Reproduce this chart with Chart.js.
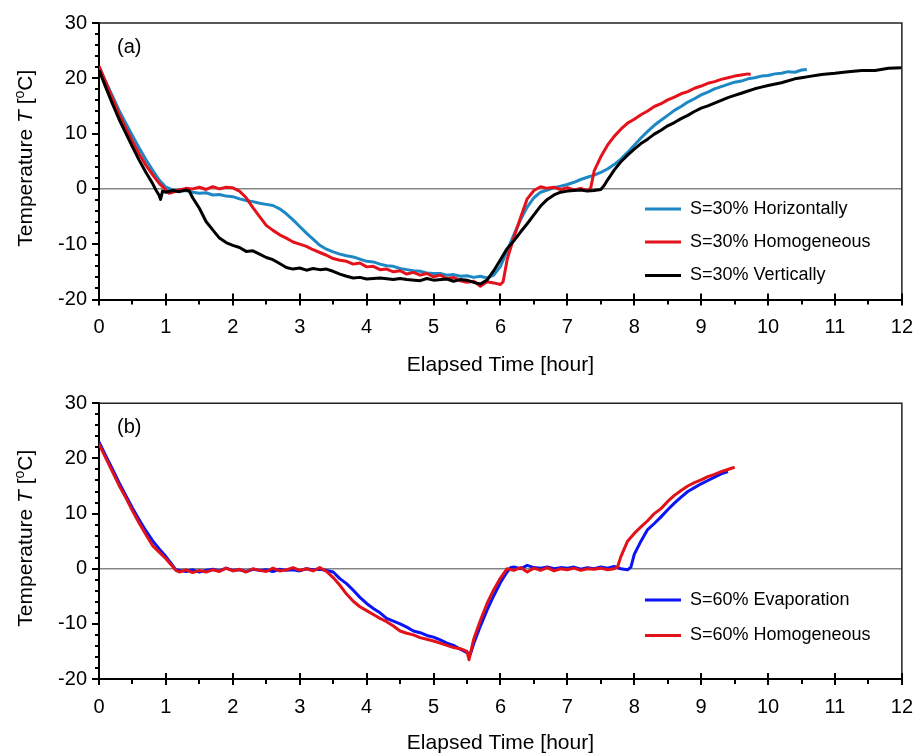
<!DOCTYPE html>
<html>
<head>
<meta charset="utf-8">
<script src="https://cdn.jsdelivr.net/npm/chart.js@4.4.1/dist/chart.umd.min.js"></script>
<style>
  body { margin: 0; background: #fff; }
  .panel { position: absolute; left: 0; width: 921px; height: 378px; }
</style>
</head>
<body>
<div class="panel" style="top:0"><canvas id="chartA" width="921" height="378"></canvas></div>
<div class="panel" style="top:378px"><canvas id="chartB" width="921" height="378"></canvas></div>
<script>
// tick labels
const hourTicks = [0, 1, 2, 3, 4, 5, 6, 7, 8, 9, 10, 11, 12];
const tempTicks = [-20, -10, 0, 10, 20, 30];

// (a) S=30% runs, [hour, degC]
const horizontally = [[0,22],[0.1,19.4],[0.2,16.8],[0.3,14.2],[0.4,11.9],[0.5,9.6],[0.6,7.4],[0.7,5.3],[0.8,3.4],[0.9,1.6],[1.0,0.3],[1.1,-0.2],[1.2,-0.4],[1.3,-0.3],[1.4,-0.6],[1.5,-0.8],[1.6,-0.7],[1.7,-1.1],[1.8,-1.0],[1.9,-1.3],[2.0,-1.4],[2.1,-1.8],[2.2,-2.1],[2.3,-2.3],[2.4,-2.6],[2.5,-2.8],[2.6,-3.0],[2.7,-3.6],[2.8,-4.5],[2.9,-5.6],[3.0,-6.8],[3.1,-8.0],[3.2,-9.1],[3.3,-10.2],[3.4,-10.9],[3.5,-11.4],[3.6,-11.8],[3.7,-12.1],[3.8,-12.3],[3.9,-12.7],[4.0,-13.1],[4.1,-13.2],[4.2,-13.6],[4.3,-13.9],[4.4,-14.0],[4.5,-14.4],[4.6,-14.6],[4.7,-14.8],[4.8,-14.9],[4.9,-15.2],[5.0,-15.3],[5.1,-15.3],[5.2,-15.6],[5.3,-15.5],[5.4,-15.8],[5.5,-15.7],[5.6,-16.0],[5.7,-15.8],[5.8,-16.1],[5.9,-15.6],[6.0,-14.0],[6.1,-11.2],[6.2,-8.3],[6.3,-5.6],[6.4,-3.3],[6.5,-1.6],[6.6,-0.6],[6.7,-0.2],[6.8,0.2],[6.9,0.5],[7.0,0.8],[7.1,1.2],[7.2,1.7],[7.3,2.1],[7.4,2.5],[7.5,3.0],[7.6,3.6],[7.7,4.4],[7.8,5.4],[7.9,6.6],[8.0,7.9],[8.1,9.2],[8.2,10.4],[8.3,11.5],[8.4,12.4],[8.5,13.3],[8.6,14.2],[8.7,14.9],[8.8,15.7],[8.9,16.3],[9.0,17.0],[9.1,17.5],[9.2,18.1],[9.3,18.5],[9.4,18.9],[9.5,19.3],[9.6,19.5],[9.7,19.9],[9.8,20.1],[9.9,20.4],[10.0,20.5],[10.1,20.8],[10.2,20.9],[10.3,21.2],[10.4,21.1],[10.5,21.5],[10.58,21.6]];

const homogeneous30 = [[0,22.2],[0.1,19.3],[0.2,16.4],[0.3,13.5],[0.4,11.0],[0.5,8.6],[0.6,6.3],[0.7,4.3],[0.8,2.6],[0.9,1.0],[1.0,-0.2],[1.05,-0.8],[1.1,-0.6],[1.2,-0.2],[1.3,0.1],[1.4,0.0],[1.5,0.3],[1.6,-0.1],[1.7,0.4],[1.8,0.0],[1.9,0.3],[2.0,0.2],[2.1,-0.4],[2.2,-1.6],[2.3,-3.4],[2.4,-5.0],[2.5,-6.6],[2.6,-7.5],[2.7,-8.3],[2.8,-8.9],[2.9,-9.6],[3.0,-10.0],[3.1,-10.4],[3.2,-11.0],[3.3,-11.5],[3.4,-12.0],[3.5,-12.6],[3.6,-12.9],[3.7,-13.1],[3.8,-13.6],[3.9,-13.4],[4.0,-14.1],[4.1,-14.0],[4.2,-14.6],[4.3,-14.5],[4.4,-15.0],[4.5,-14.8],[4.6,-15.4],[4.7,-15.1],[4.8,-15.6],[4.9,-15.3],[5.0,-15.9],[5.1,-15.6],[5.2,-16.2],[5.3,-16.0],[5.4,-16.6],[5.5,-16.9],[5.6,-16.7],[5.7,-17.6],[5.8,-16.8],[5.9,-17.0],[6.0,-17.3],[6.04,-16.8],[6.1,-12.8],[6.2,-8.8],[6.3,-5.2],[6.4,-1.8],[6.5,-0.3],[6.6,0.4],[6.7,0.1],[6.8,0.3],[6.9,-0.1],[7.0,0.2],[7.1,-0.2],[7.2,0.1],[7.3,-0.3],[7.35,0.2],[7.4,3.2],[7.5,5.8],[7.6,7.9],[7.7,9.5],[7.8,10.8],[7.9,11.9],[8.0,12.6],[8.1,13.4],[8.2,14.1],[8.3,14.9],[8.4,15.4],[8.5,16.1],[8.6,16.6],[8.7,17.2],[8.8,17.6],[8.9,18.2],[9.0,18.6],[9.1,19.1],[9.2,19.4],[9.3,19.8],[9.4,20.1],[9.5,20.4],[9.6,20.6],[9.7,20.8],[9.74,20.7]];

const vertically = [[0,21.5],[0.1,18.4],[0.2,15.4],[0.3,12.6],[0.4,10.1],[0.5,7.6],[0.6,5.2],[0.7,3.0],[0.8,1.0],[0.85,-0.2],[0.9,-1.2],[0.92,-1.9],[0.95,-0.4],[1.0,-0.6],[1.1,-0.3],[1.2,-0.5],[1.3,-0.2],[1.35,-0.4],[1.4,-1.6],[1.5,-3.5],[1.6,-5.9],[1.7,-7.4],[1.8,-8.9],[1.9,-9.7],[2.0,-10.2],[2.1,-10.6],[2.2,-11.3],[2.3,-11.2],[2.4,-11.8],[2.5,-12.4],[2.6,-12.8],[2.7,-13.5],[2.8,-14.2],[2.9,-14.5],[3.0,-14.3],[3.1,-14.7],[3.2,-14.4],[3.3,-14.6],[3.4,-14.5],[3.5,-14.9],[3.6,-15.4],[3.7,-15.8],[3.8,-16.1],[3.9,-16.0],[4.0,-16.3],[4.2,-16.1],[4.4,-16.4],[4.5,-16.2],[4.6,-16.4],[4.8,-16.6],[4.9,-16.2],[5.0,-16.5],[5.2,-16.3],[5.3,-16.7],[5.4,-16.4],[5.5,-16.5],[5.6,-16.9],[5.7,-17.2],[5.8,-16.5],[5.9,-14.8],[6.0,-12.8],[6.1,-10.8],[6.2,-9.4],[6.3,-7.8],[6.4,-6.3],[6.5,-4.7],[6.6,-3.1],[6.7,-1.9],[6.8,-1.1],[6.9,-0.6],[7.0,-0.4],[7.1,-0.3],[7.2,-0.2],[7.3,-0.4],[7.4,-0.3],[7.5,-0.1],[7.55,0.6],[7.6,1.6],[7.7,3.4],[7.8,4.9],[7.9,6.1],[8.0,7.2],[8.1,8.2],[8.2,9.0],[8.3,9.9],[8.4,10.6],[8.5,11.4],[8.6,12.0],[8.7,12.7],[8.8,13.3],[8.9,14.0],[9.0,14.6],[9.1,15.0],[9.2,15.5],[9.3,16.0],[9.4,16.5],[9.5,16.9],[9.6,17.3],[9.7,17.7],[9.8,18.1],[9.9,18.4],[10.0,18.7],[10.2,19.2],[10.4,19.9],[10.5,20.1],[10.6,20.3],[10.8,20.7],[11.0,20.9],[11.2,21.2],[11.4,21.4],[11.6,21.4],[11.8,21.8],[12.0,21.9]];

// (b) S=60% runs
const evaporation = [[0,23.0],[0.1,20.5],[0.2,18.1],[0.3,15.6],[0.4,13.3],[0.5,11.0],[0.6,8.9],[0.7,6.9],[0.8,5.1],[0.9,3.6],[1.0,2.2],[1.1,0.6],[1.15,-0.2],[1.2,-0.3],[1.3,-0.5],[1.4,-0.2],[1.5,-0.6],[1.6,-0.3],[1.7,-0.1],[1.8,-0.4],[1.9,0.1],[2.0,-0.3],[2.1,-0.2],[2.2,-0.5],[2.3,-0.1],[2.4,-0.3],[2.5,-0.2],[2.6,-0.5],[2.7,-0.1],[2.8,-0.3],[2.9,-0.2],[3.0,-0.4],[3.1,0.0],[3.2,-0.2],[3.3,-0.1],[3.4,-0.3],[3.5,-0.6],[3.6,-1.8],[3.7,-2.7],[3.8,-3.9],[3.9,-5.2],[4.0,-6.3],[4.1,-7.2],[4.2,-8.0],[4.3,-9.0],[4.4,-9.5],[4.5,-10.0],[4.6,-10.6],[4.7,-11.3],[4.8,-11.6],[4.9,-12.1],[5.0,-12.4],[5.1,-12.9],[5.2,-13.5],[5.3,-13.9],[5.4,-14.6],[5.5,-15.2],[5.55,-15.5],[5.6,-13.6],[5.7,-10.4],[5.8,-7.5],[5.9,-4.9],[6.0,-2.5],[6.1,-0.6],[6.15,0.2],[6.2,0.3],[6.3,0.0],[6.4,0.6],[6.5,0.2],[6.6,0.1],[6.7,0.3],[6.8,0.0],[6.9,0.2],[7.0,0.1],[7.1,0.3],[7.2,-0.1],[7.3,0.2],[7.4,0.0],[7.5,0.3],[7.6,0.1],[7.7,0.4],[7.8,0.0],[7.9,-0.2],[7.95,0.3],[8.0,2.6],[8.1,5.0],[8.2,7.1],[8.3,8.2],[8.4,9.4],[8.5,10.7],[8.6,11.9],[8.7,13.0],[8.8,14.0],[8.9,14.7],[9.0,15.4],[9.1,16.0],[9.2,16.6],[9.3,17.2],[9.4,17.6]];

const homogeneous60 = [[0,22.6],[0.1,20.1],[0.2,17.6],[0.3,15.1],[0.4,12.9],[0.5,10.5],[0.6,8.3],[0.7,6.2],[0.8,4.2],[0.9,3.0],[1.0,1.8],[1.1,0.4],[1.15,-0.3],[1.2,-0.6],[1.3,-0.2],[1.4,-0.7],[1.5,-0.3],[1.6,-0.6],[1.7,-0.2],[1.8,-0.5],[1.9,0.1],[2.0,-0.4],[2.1,-0.1],[2.2,-0.6],[2.3,0.0],[2.4,-0.3],[2.5,-0.5],[2.6,0.1],[2.7,-0.4],[2.8,-0.2],[2.9,0.2],[3.0,-0.3],[3.1,0.0],[3.2,-0.4],[3.3,0.2],[3.4,-0.5],[3.5,-1.6],[3.6,-3.0],[3.7,-4.6],[3.8,-5.9],[3.9,-6.9],[4.0,-7.6],[4.1,-8.3],[4.2,-9.0],[4.3,-9.6],[4.4,-10.4],[4.5,-11.3],[4.6,-11.7],[4.7,-12.0],[4.8,-12.5],[4.9,-12.8],[5.0,-13.1],[5.1,-13.5],[5.2,-13.9],[5.3,-14.3],[5.4,-14.5],[5.5,-15.0],[5.53,-16.5],[5.6,-12.8],[5.7,-9.4],[5.8,-6.3],[5.9,-3.8],[6.0,-1.7],[6.1,0.0],[6.2,-0.3],[6.3,0.2],[6.4,-0.6],[6.5,0.1],[6.6,-0.3],[6.7,0.2],[6.8,-0.4],[6.9,0.0],[7.0,-0.2],[7.1,0.1],[7.2,-0.3],[7.3,0.0],[7.4,-0.1],[7.5,0.1],[7.6,-0.2],[7.7,0.0],[7.75,0.3],[7.8,2.2],[7.9,5.0],[8.0,6.4],[8.1,7.6],[8.2,8.7],[8.3,10.0],[8.4,10.9],[8.5,12.2],[8.6,13.3],[8.7,14.2],[8.8,15.0],[8.9,15.6],[9.0,16.1],[9.1,16.7],[9.2,17.1],[9.3,17.6],[9.4,18.0],[9.5,18.4]];

const FONT = '"Liberation Sans", Arial, sans-serif';
Chart.defaults.color = '#000';
Chart.defaults.font.family = FONT;

// frame, minor ticks, panel tag, y title and legend
const decorations = {
  id: 'decorations',
  afterDraw(chart, args, opts) {
    const ctx = chart.ctx;
    const a = chart.chartArea;
    const xs = chart.scales.x, ys = chart.scales.y;
    ctx.save();

    ctx.strokeStyle = '#222';
    ctx.lineWidth = 1.5;
    ctx.beginPath();
    ctx.moveTo(a.left, a.top);
    ctx.lineTo(a.right, a.top);
    ctx.lineTo(a.right, a.bottom);
    ctx.stroke();

    ctx.strokeStyle = '#000';
    ctx.lineWidth = 2;
    ctx.beginPath();
    for (let v = ys.min; v <= ys.max; v += 2) {
      const y = Math.round(ys.getPixelForValue(v));
      const len = v % 10 === 0 ? 7 : 4;
      ctx.moveTo(a.left - len, y);
      ctx.lineTo(a.left, y);
    }
    for (let v = xs.min; v <= xs.max + 1e-9; v += 0.5) {
      const x = Math.round(xs.getPixelForValue(v));
      if (Number.isInteger(v)) {
        ctx.moveTo(x, a.bottom - 6);
        ctx.lineTo(x, a.bottom + 6);
      } else {
        ctx.moveTo(x, a.bottom);
        ctx.lineTo(x, a.bottom + 5);
      }
    }
    ctx.stroke();

    ctx.fillStyle = '#000';
    ctx.textBaseline = 'middle';
    ctx.font = '20px ' + FONT;
    ctx.fillText(opts.tag, a.left + 18, a.top + 24.5);

    // y title with italic T and superscript o
    const parts = [
      ['Temperature ', '21px ' + FONT, 0],
      ['T', 'italic 21px ' + FONT, 0],
      [' [', '21px ' + FONT, 0],
      ['o', '14px ' + FONT, -8],
      ['C]', '21px ' + FONT, 0]
    ];
    let total = 0;
    parts.forEach(p => { ctx.font = p[1]; total += ctx.measureText(p[0]).width; });
    ctx.save();
    ctx.translate(32, (a.top + a.bottom) / 2 - 3);
    ctx.rotate(-Math.PI / 2);
    ctx.textBaseline = 'alphabetic';
    let x = -total / 2;
    parts.forEach(p => {
      ctx.font = p[1];
      ctx.fillText(p[0], x, p[2]);
      x += ctx.measureText(p[0]).width;
    });
    ctx.restore();

    ctx.font = '18px ' + FONT;
    ctx.textBaseline = 'middle';
    opts.legendY.forEach((y, i) => {
      const ds = chart.data.datasets[i];
      ctx.strokeStyle = ds.borderColor;
      ctx.lineWidth = 3;
      ctx.beginPath();
      ctx.moveTo(645, y);
      ctx.lineTo(681, y);
      ctx.stroke();
      ctx.fillStyle = '#000';
      ctx.fillText(ds.label, 690, y);
    });
    ctx.restore();
  }
};

function line(label, data, color, order) {
  return {
    label: label,
    data: data,
    borderColor: color,
    backgroundColor: color,
    borderWidth: 3,
    borderJoinStyle: 'round',
    pointRadius: 0,
    tension: 0,
    fill: false,
    order: order
  };
}

function makeChart(id, datasets, padTop, axisHeight, tag, legendY) {
  return new Chart(document.getElementById(id), {
    type: 'line',
    data: { datasets: datasets },
    plugins: [decorations],
    options: {
      responsive: false,
      animation: false,
      devicePixelRatio: 1,
      layout: { padding: { top: padTop, right: 17, bottom: 0, left: 0 } },
      plugins: {
        legend: { display: false },
        tooltip: { enabled: false },
        decorations: { tag: tag, legendY: legendY }
      },
      scales: {
        x: {
          type: 'linear',
          min: 0,
          max: 12,
          afterBuildTicks: s => { s.ticks = hourTicks.map(v => ({ value: v })); },
          afterFit: s => { s.height = axisHeight; },
          ticks: { font: { size: 20 }, padding: 8, maxRotation: 0 },
          grid: { drawOnChartArea: false, tickLength: 8, tickColor: 'rgba(0,0,0,0)' },
          border: { color: '#000', width: 2 },
          title: {
            display: true,
            text: 'Elapsed Time [hour]',
            font: { size: 21 },
            padding: { top: 0, bottom: 0 }
          }
        },
        y: {
          min: -20,
          max: 30,
          afterBuildTicks: s => { s.ticks = tempTicks.map(v => ({ value: v })); },
          afterFit: s => { s.width = 99; },
          ticks: { font: { size: 20 }, padding: 4 },
          grid: {
            color: c => (c.tick && c.tick.value === 0 ? '#858585' : 'rgba(0,0,0,0)'),
            lineWidth: 1.5,
            tickLength: 8,
            tickColor: 'rgba(0,0,0,0)'
          },
          border: { color: '#000', width: 2 }
        }
      }
    }
  });
}

makeChart('chartA', [
  line('S=30% Horizontally', horizontally, '#1d88c4', 3),
  line('S=30% Homogeneous', homogeneous30, '#e6121b', 2),
  line('S=30% Vertically', vertically, '#000000', 1)
], 23, 78.5, '(a)', [209, 242, 275.5]);

makeChart('chartB', [
  line('S=60% Evaporation', evaporation, '#0a14f5', 2),
  line('S=60% Homogeneous', homogeneous60, '#e21218', 1)
], 25.3, 77, '(b)', [222, 257.5]);
</script>
</body>
</html>
